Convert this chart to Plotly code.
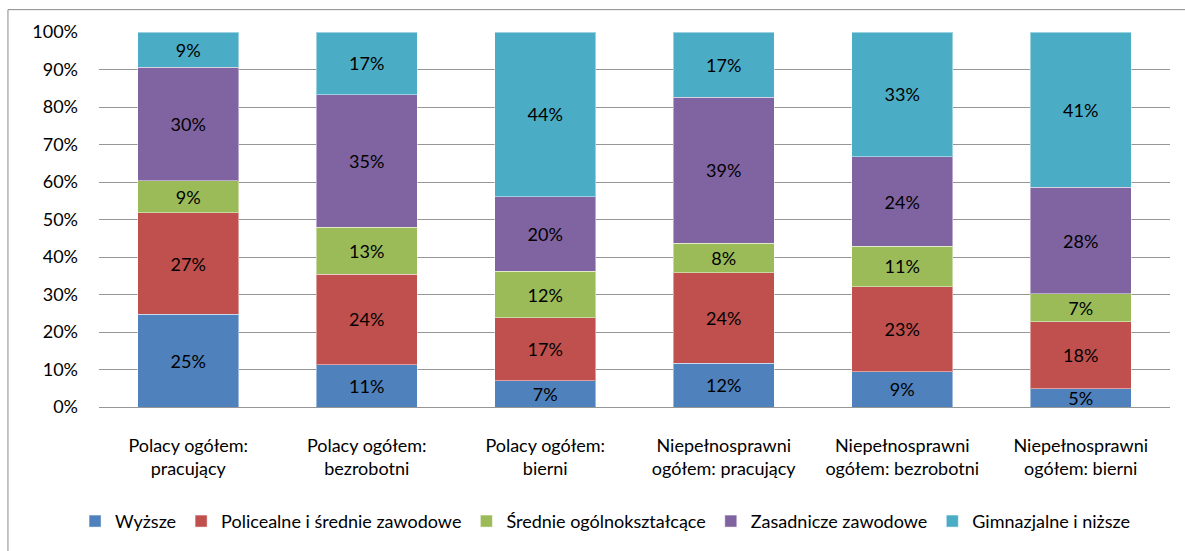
import plotly.graph_objects as go

# Groups shown on the horizontal axis
categories = [
    "Polacy ogółem:<br>pracujący",
    "Polacy ogółem:<br>bezrobotni",
    "Polacy ogółem:<br>bierni",
    "Niepełnosprawni<br>ogółem: pracujący",
    "Niepełnosprawni<br>ogółem: bezrobotni",
    "Niepełnosprawni<br>ogółem: bierni",
]

# Share of each education level (%), stacked bottom to top
wyzsze = [24.7, 11.3, 7.0, 11.7, 9.4, 4.9]
policealne = [27.1, 24.1, 16.8, 24.1, 22.7, 17.9]
srednie_ogolne = [8.6, 12.6, 12.4, 7.9, 10.8, 7.4]
zasadnicze = [30.2, 35.3, 19.9, 38.9, 23.8, 28.4]
gimnazjalne = [9.4, 16.7, 43.9, 17.4, 33.3, 41.4]

series = [
    ("Wyższe", wyzsze, "#4F81BD"),
    ("Policealne i średnie zawodowe", policealne, "#C0504D"),
    ("Średnie ogólnokształcące", srednie_ogolne, "#9BBB59"),
    ("Zasadnicze zawodowe", zasadnicze, "#8064A2"),
    ("Gimnazjalne i niższe", gimnazjalne, "#4BACC6"),
]

FONT = "Lato"
SIZE = 18

fig = go.Figure()
for name, values, color in series:
    fig.add_trace(
        go.Bar(
            name=name,
            x=categories,
            y=values,
            marker=dict(color=color, line=dict(color="rgba(255,255,255,0.45)", width=1)),
            texttemplate="%{y:.0f}%",
            textposition="inside",
            insidetextanchor="middle",
            textangle=0,
            constraintext="none",
            textfont=dict(family=FONT, size=SIZE, color="#000000"),
        )
    )

fig.update_layout(
    barmode="stack",
    bargap=0.436,
    width=1185,
    height=551,
    margin=dict(l=99, r=15, t=32, b=144, autoexpand=False),
    paper_bgcolor="white",
    plot_bgcolor="white",
    font=dict(family=FONT, size=SIZE, color="#000000"),
    legend=dict(
        orientation="h",
        x=0.4725,
        xanchor="center",
        y=-0.305,
        yanchor="middle",
        font=dict(family=FONT, size=SIZE, color="#000000"),
        itemwidth=30,
        traceorder="normal",
    ),
    shapes=[
        dict(
            type="rect",
            xref="paper",
            yref="paper",
            x0=-0.085,
            x1=1.05,
            y0=-0.5,
            y1=1.0596,
            line=dict(color="#8a8a8a", width=1),
            fillcolor="rgba(0,0,0,0)",
            layer="below",
        )
    ],
)

fig.update_yaxes(
    range=[0, 100],
    dtick=10,
    ticksuffix="%",
    showgrid=True,
    gridcolor="#969696",
    gridwidth=1,
    zeroline=False,
    showline=False,
    ticks="",
    ticklabelstandoff=20,
    tickfont=dict(family=FONT, size=SIZE, color="#000000"),
)
fig.update_xaxes(
    showline=True,
    linecolor="#969696",
    linewidth=1,
    ticks="",
    ticklabelstandoff=22,
    tickfont=dict(family=FONT, size=SIZE, color="#000000"),
)

fig.write_html("out.html")
